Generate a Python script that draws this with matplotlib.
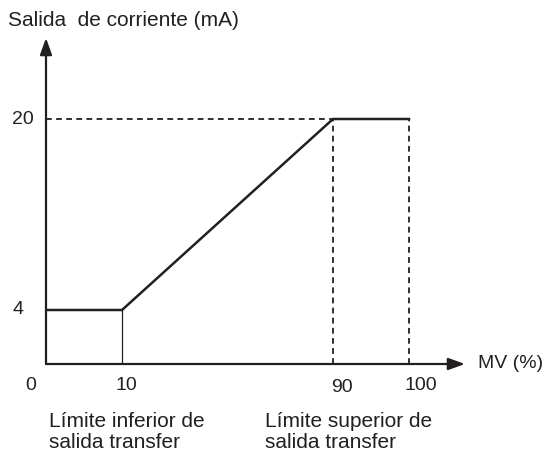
import numpy as np
import matplotlib.pyplot as plt

plt.rcParams['font.family'] = ['Liberation Sans', 'DejaVu Sans']

# MV (%) vs transfer output current (mA)
mv = [0, 10, 90, 100]
current = [4, 4, 20, 20]
mv_ticks = [0, 10, 90, 100]
mv_tick_labels = ['0', '10', '90', '100']
ma_ticks = [4, 20]
ma_tick_labels = ['4', '20']
low_label = 'Límite inferior de\nsalida transfer'
high_label = 'Límite superior de\nsalida transfer'

# the drawing is a sketch, not to scale -> piecewise linear axes
x_knots = [0, 10, 90, 100, 200]
x_px = [0, 76, 287, 363, 1123]
y_knots = [0, 4, 20, 40]
y_px = [0, 54, 245, 484]

def fx(x):
    return np.interp(x, x_knots, x_px)

def ix(p):
    return np.interp(p, x_px, x_knots)

def fy(y):
    return np.interp(y, y_knots, y_px)

def iy(p):
    return np.interp(p, y_px, y_knots)

ink = '#231f20'
fs = 14
fs_txt = 15

fig = plt.figure(figsize=(5.48, 4.53), dpi=100)
ax = fig.add_axes([46 / 548, 89 / 453, 424 / 548, 326 / 453])
ax.set_xscale('function', functions=(fx, ix))
ax.set_yscale('function', functions=(fy, iy))
ax.set_xlim(0, ix(424))
ax.set_ylim(0, iy(326))
ax.axis('off')

# axes with arrows
arrow = dict(arrowstyle='-|>,head_length=1.0,head_width=0.36', lw=1.6,
             color=ink, shrinkA=0, shrinkB=0, mutation_scale=10)
ax.annotate('', xy=(ix(419), 0), xytext=(0, 0), arrowprops=arrow)
ax.annotate('', xy=(0, iy(326)), xytext=(0, 0), arrowprops=arrow)

# guide lines
dash = (0, (3.2, 2.4))
ax.plot([0, mv[2]], [current[2], current[2]], color=ink, lw=1.3, ls=dash)
ax.plot([mv[2], mv[2]], [0, current[2]], color=ink, lw=1.3, ls=dash)
ax.plot([mv[3], mv[3]], [0, current[3]], color=ink, lw=1.3, ls=dash)
ax.plot([mv[1], mv[1]], [0, current[1]], color=ink, lw=0.9)

# output characteristic
ax.plot(mv, current, color=ink, lw=1.8, solid_joinstyle='miter')

tick_dx = {0: -15, 10: 4, 90: 9, 100: 12}
for v, lab in zip(mv_ticks, mv_tick_labels):
    dy = -24 if v == 90 else -21
    ax.annotate(lab, (v, 0), xytext=(tick_dx[v], dy), textcoords='offset pixels',
                ha='center', va='center', fontsize=fs, color=ink)
for v, lab in zip(ma_ticks, ma_tick_labels):
    dx = -28 if v == 4 else -23
    ax.annotate(lab, (0, v), xytext=(dx, 0), textcoords='offset pixels',
                ha='center', va='center', fontsize=fs, color=ink)

ax.annotate('MV (%)', (ix(419), 0), xytext=(13, 0), textcoords='offset pixels',
            ha='left', va='center', fontsize=fs, color=ink)
fig.text(8 / 548, 1 - 21 / 453, 'Salida  de corriente (mA)', ha='left',
         va='center', fontsize=fs_txt, color=ink)

ax.annotate(low_label, (0, 0), xytext=(3, -68), textcoords='offset pixels',
            ha='left', va='center', fontsize=fs_txt, color=ink, linespacing=1.15)
ax.annotate(high_label, (mv[2], 0), xytext=(-68, -68), textcoords='offset pixels',
            ha='left', va='center', fontsize=fs_txt, color=ink, linespacing=1.15)

fig.savefig('out.png', dpi=100)
